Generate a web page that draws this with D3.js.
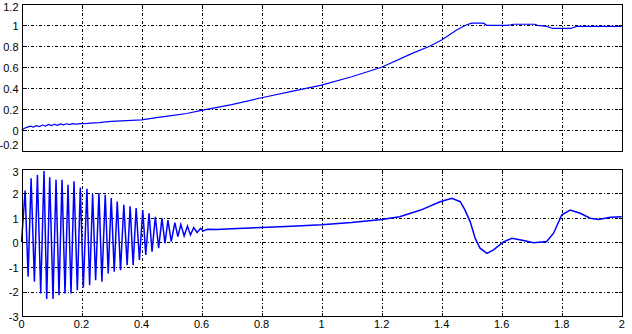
<!DOCTYPE html>
<html>
<head>
<meta charset="utf-8">
<script src="https://d3js.org/d3.v7.min.js"></script>
<style>
body { margin: 0; background: #fff; }
text { font-family: "Liberation Sans", Arial, sans-serif; font-size: 11px; fill: #000; }
</style>
</head>
<body>
<script>
var xTicks = [0, 0.2, 0.4, 0.6, 0.8, 1, 1.2, 1.4, 1.6, 1.8, 2];
var topTicks = [-0.2, 0, 0.2, 0.4, 0.6, 0.8, 1, 1.2];
var botTicks = [-3, -2, -1, 0, 1, 2, 3];

// top trace
var topT = [0, 0.01, 0.02, 0.03, 0.04, 0.05, 0.06, 0.07, 0.08, 0.09, 0.10, 0.11, 0.12, 0.13, 0.14, 0.15, 0.16, 0.17, 0.18,
  0.2, 0.22, 0.24, 0.26, 0.28, 0.3, 0.35, 0.4, 0.45, 0.5, 0.55, 0.6, 0.7, 0.8, 0.9, 1.0, 1.1, 1.2, 1.3, 1.36, 1.4,
  1.45, 1.48, 1.5, 1.54, 1.55, 1.62, 1.64, 1.66, 1.71, 1.72, 1.75, 1.77, 1.83, 1.85, 2.0];
var topV = [0, 0.02, 0.03, 0.04, 0.03, 0.045, 0.035, 0.05, 0.04, 0.055, 0.045, 0.057, 0.048, 0.06, 0.052, 0.062, 0.055, 0.064, 0.058,
  0.064, 0.066, 0.07, 0.074, 0.08, 0.085, 0.092, 0.1, 0.12, 0.14, 0.16, 0.19, 0.245, 0.31, 0.37, 0.43, 0.51, 0.6, 0.73, 0.8, 0.86,
  0.955, 1.0, 1.02, 1.02, 1.0, 1.0, 1.01, 1.01, 1.01, 1.0, 0.99, 0.97, 0.97, 0.99, 0.99];

// bottom trace
var botT = [0, 0.004, 0.012, 0.022, 0.032, 0.043, 0.053, 0.064, 0.075, 0.084, 0.094, 0.105, 0.115, 0.125, 0.135, 0.145,
  0.155, 0.165, 0.175, 0.186, 0.196, 0.206, 0.218, 0.227, 0.237, 0.247, 0.258, 0.268, 0.279, 0.289, 0.299, 0.309,
  0.319, 0.330, 0.341, 0.352, 0.362, 0.372, 0.382, 0.393, 0.404, 0.414, 0.425, 0.435, 0.446, 0.457, 0.468, 0.478,
  0.488, 0.499, 0.511, 0.521, 0.531, 0.542, 0.553, 0.563, 0.574, 0.585, 0.597, 0.605, 0.62, 0.65, 0.7, 0.8, 0.9,
  1.0, 1.1, 1.2, 1.26, 1.33, 1.395, 1.434, 1.462, 1.478, 1.495, 1.512, 1.528, 1.551, 1.573, 1.606, 1.634, 1.673,
  1.706, 1.75, 1.773, 1.8, 1.828, 1.862, 1.895, 1.923, 1.962, 2.0];
var botV = [0, 0.7, 2.1, -1.4, 2.6, -1.6, 2.75, -2.08, 2.9, -2.3, 2.64, -2.3, 2.54, -2.15, 2.54, -2.08,
  2.34, -2.08, 2.48, -1.95, 2.23, -1.85, 2.18, -1.74, 1.96, -1.54, 2.0, -1.6, 1.93, -1.27, 1.8, -1.2,
  1.66, -1.13, 1.52, -0.93, 1.46, -0.93, 1.39, -0.72, 1.31, -0.51, 1.18, -0.38, 1.04, -0.24, 0.97, -0.04,
  0.9, 0.03, 0.8, 0.23, 0.73, 0.26, 0.66, 0.3, 0.6, 0.4, 0.57, 0.46, 0.53, 0.52, 0.55, 0.6, 0.65,
  0.71, 0.8, 0.93, 1.04, 1.31, 1.65, 1.79, 1.65, 1.31, 0.84, 0.16, -0.24, -0.45, -0.31, 0.02, 0.16, 0.07,
  -0.02, 0.03, 0.37, 1.11, 1.31, 1.18, 0.98, 0.93, 1.02, 1.04];

var W = 632, H = 334;
var left = 21.5, right = 621.7;

var svg = d3.select("body").append("svg")
    .attr("width", W)
    .attr("height", H);

var x = d3.scaleLinear().domain([0, 2]).range([left, right]);

var panels = [
  { t: topT, v: topV, ticks: topTicks, dom: [-0.2, 1.2], top: 4.3, bottom: 151.3, sw: 1.2, showX: false, lab: [6.7, 145] },
  { t: botT, v: botV, ticks: botTicks, dom: [-3, 3], top: 168.5, bottom: 316.1, sw: 1.5, showX: true, lab: [172, 319] }
];

function px(v) { return Math.round(v) + 0.5; }
function fmt(d) { return String(d); }

panels.forEach(function(p) {
  var y = d3.scaleLinear().domain(p.dom).range([p.bottom, p.top]);
  var g = svg.append("g");
  var x0 = px(x(0)), x1 = px(x(2)), y0 = px(y(p.dom[0])), y1 = px(y(p.dom[1]));

  // grid
  g.selectAll(".gx").data(xTicks.slice(1, -1)).enter().append("line")
    .attr("x1", function(d) { return px(x(d)); }).attr("x2", function(d) { return px(x(d)); })
    .attr("y1", y1).attr("y2", y0)
    .attr("stroke", "#000").attr("stroke-dasharray", "3,2,1,2")
    .attr("shape-rendering", "crispEdges");
  g.selectAll(".gy").data(p.ticks.slice(1, -1)).enter().append("line")
    .attr("y1", function(d) { return px(y(d)); }).attr("y2", function(d) { return px(y(d)); })
    .attr("x1", x0).attr("x2", x1)
    .attr("stroke", "#000").attr("stroke-dasharray", "3,2,1,2")
    .attr("shape-rendering", "crispEdges");

  // trace
  var pts = p.t.map(function(t, i) { return [t, p.v[i]]; });
  g.append("path")
    .datum(pts)
    .attr("fill", "none")
    .attr("stroke", "#0000ff")
    .attr("stroke-width", p.sw)
    .attr("d", d3.line().x(function(d) { return x(d[0]); }).y(function(d) { return y(d[1]); }));

  // box
  g.append("rect")
    .attr("x", x0).attr("y", y1).attr("width", x1 - x0).attr("height", y0 - y1)
    .attr("fill", "none").attr("stroke", "#000").attr("shape-rendering", "crispEdges");

  // inner ticks
  p.ticks.forEach(function(d) {
    var yy = px(y(d));
    g.append("line").attr("x1", x0).attr("x2", x0 + 4).attr("y1", yy).attr("y2", yy)
      .attr("stroke", "#000").attr("shape-rendering", "crispEdges");
    g.append("line").attr("x1", x1 - 4).attr("x2", x1).attr("y1", yy).attr("y2", yy)
      .attr("stroke", "#000").attr("shape-rendering", "crispEdges");
  });
  xTicks.forEach(function(d) {
    var xx = px(x(d));
    g.append("line").attr("x1", xx).attr("x2", xx).attr("y1", y0).attr("y2", y0 - 4)
      .attr("stroke", "#000").attr("shape-rendering", "crispEdges");
    g.append("line").attr("x1", xx).attr("x2", xx).attr("y1", y1).attr("y2", y1 + 4)
      .attr("stroke", "#000").attr("shape-rendering", "crispEdges");
  });

  // y labels
  g.selectAll(".yl").data(p.ticks).enter().append("text")
    .attr("x", 18.5)
    .attr("y", function(d) { return Math.min(p.lab[1], Math.max(p.lab[0], y(d) + 1)); })
    .attr("dy", "0.35em")
    .attr("text-anchor", "end")
    .text(fmt);

  if (p.showX) {
    g.selectAll(".xl").data(xTicks).enter().append("text")
      .attr("x", function(d) { return x(d); })
      .attr("y", p.bottom + 11.5)
      .attr("text-anchor", "middle")
      .text(fmt);
  }
});
</script>
</body>
</html>
